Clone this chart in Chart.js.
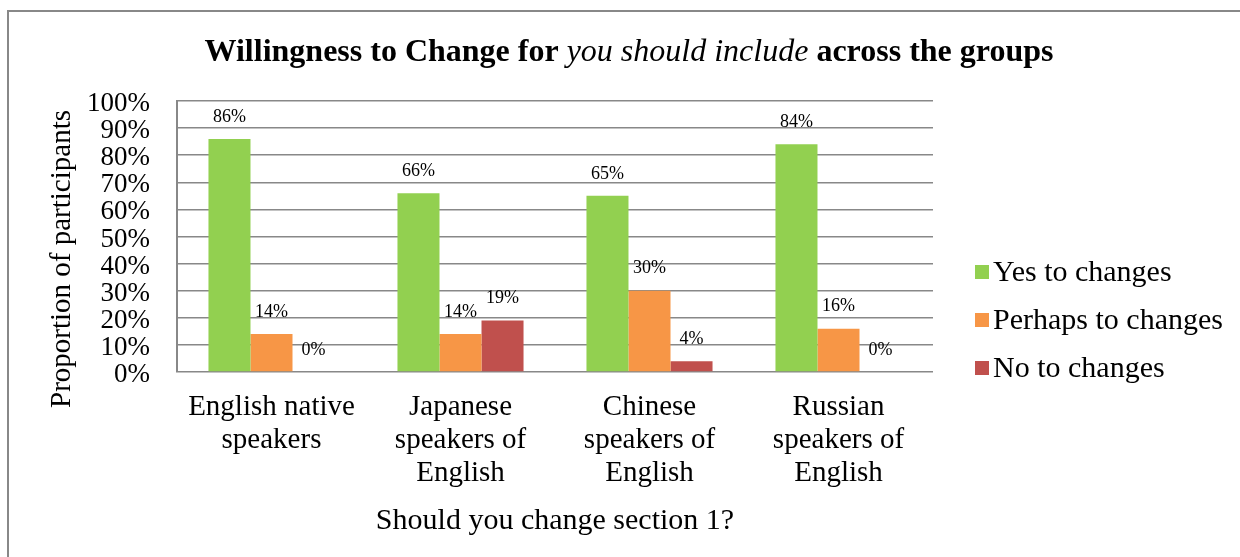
<!DOCTYPE html>
<html>
<head>
<meta charset="utf-8">
<title>Willingness to Change</title>
<script src="https://cdn.jsdelivr.net/npm/chart.js@4.4.0/dist/chart.umd.min.js"></script>
<style>
  html, body { margin: 0; padding: 0; background: #fff; }
  canvas { display: block; }
</style>
</head>
<body>
<canvas id="willingChart" width="1240" height="557"></canvas>
<script>
// data
const groups = [
    ['English native', 'speakers'],
    ['Japanese', 'speakers of', 'English'],
    ['Chinese', 'speakers of', 'English'],
    ['Russian', 'speakers of', 'English']
];
const seriesNames = ['Yes to changes', 'Perhaps to changes', 'No to changes'];
const yesValues = [86, 66, 65, 84];
const perhapsValues = [14, 14, 30, 16];
const noValues = [0, 19, 4, 0];
const yTickStep = 10;
const yMax = 100;

const seriesColors = ['#92D050', '#F79646', '#C0504D'];
const serif = "'Liberation Serif', 'DejaVu Serif', serif";
const gridGray = '#888888';

// title, legend, value labels and frame drawn by hand
const decorPlugin = {
    id: 'decor',
    beforeDraw(chart) {
        const ctx = chart.ctx;
        ctx.save();
        ctx.fillStyle = '#fff';
        ctx.fillRect(0, 0, chart.width, chart.height);
        ctx.strokeStyle = gridGray;
        ctx.lineWidth = 2;
        ctx.beginPath();
        ctx.moveTo(8, chart.height);
        ctx.lineTo(8, 11);
        ctx.lineTo(chart.width, 11);
        ctx.stroke();
        ctx.restore();
    },
    afterDatasetsDraw(chart) {
        const ctx = chart.ctx;
        ctx.save();
        ctx.font = '18px ' + serif;
        ctx.fillStyle = '#000';
        ctx.textAlign = 'center';
        ctx.textBaseline = 'middle';
        chart.data.datasets.forEach((ds, i) => {
            const meta = chart.getDatasetMeta(i);
            meta.data.forEach((bar, j) => {
                ctx.fillText(ds.data[j] + '%', bar.x, bar.y - 22);
            });
        });
        ctx.restore();
    },
    afterDraw(chart) {
        const ctx = chart.ctx;
        ctx.save();
        ctx.fillStyle = '#000';

        // title with an italic middle part
        const parts = [
            { text: 'Willingness to Change for ', font: 'bold 32px ' + serif },
            { text: 'you should include', font: 'italic 32px ' + serif },
            { text: ' across the groups', font: 'bold 32px ' + serif }
        ];
        let total = 0;
        parts.forEach(p => { ctx.font = p.font; p.w = ctx.measureText(p.text).width; total += p.w; });
        let x = 629 - total / 2;
        ctx.textBaseline = 'middle';
        ctx.textAlign = 'left';
        parts.forEach(p => { ctx.font = p.font; ctx.fillText(p.text, x, 53); x += p.w; });

        // y axis title
        ctx.save();
        ctx.translate(62, 259);
        ctx.rotate(-Math.PI / 2);
        ctx.textAlign = 'center';
        ctx.font = '29px ' + serif;
        ctx.fillText('Proportion of participants', 0, 0);
        ctx.restore();

        // legend
        ctx.font = '30px ' + serif;
        ctx.textAlign = 'left';
        chart.data.datasets.forEach((ds, i) => {
            const rowY = 272 + i * 48;
            ctx.fillStyle = ds.backgroundColor;
            ctx.fillRect(975, rowY - 7, 14, 14);
            ctx.fillStyle = '#000';
            ctx.fillText(ds.label, 993, rowY + 1);
        });
        ctx.restore();
    }
};

const seriesValues = [yesValues, perhapsValues, noValues];

new Chart(document.getElementById('willingChart'), {
    type: 'bar',
    data: {
        labels: groups,
        datasets: seriesNames.map((name, i) => ({
            label: name,
            data: seriesValues[i],
            backgroundColor: seriesColors[i],
            borderWidth: 0,
            categoryPercentage: 0.667,
            barPercentage: 1
        }))
    },
    options: {
        responsive: false,
        animation: false,
        layout: { padding: { top: 101, right: 307, left: 0, bottom: 0 } },
        plugins: {
            legend: { display: false },
            title: { display: false },
            tooltip: { enabled: false }
        },
        scales: {
            x: {
                grid: { display: false, drawTicks: false },
                border: { display: false },
                ticks: {
                    color: '#000',
                    font: { family: serif, size: 29, lineHeight: 33 / 29 },
                    padding: 19,
                    maxRotation: 0,
                    autoSkip: false
                },
                title: {
                    display: true,
                    text: 'Should you change section 1?',
                    color: '#000',
                    font: { family: serif, size: 30, lineHeight: 1.2 },
                    padding: { top: 0, bottom: 18 }
                },
                afterFit(scale) { scale.height = 185; }
            },
            y: {
                min: 0,
                max: yMax,
                grid: { color: gridGray, lineWidth: 1.5, drawTicks: false },
                border: { display: true, color: gridGray, width: 2 },
                ticks: {
                    stepSize: yTickStep,
                    autoSkip: false,
                    color: '#000',
                    padding: 27,
                    labelOffset: 3,
                    font: { family: serif, size: 27 },
                    callback: v => v + '%'
                },
                afterFit(scale) { scale.width = 177; }
            }
        }
    },
    plugins: [decorPlugin]
});
</script>
</body>
</html>
